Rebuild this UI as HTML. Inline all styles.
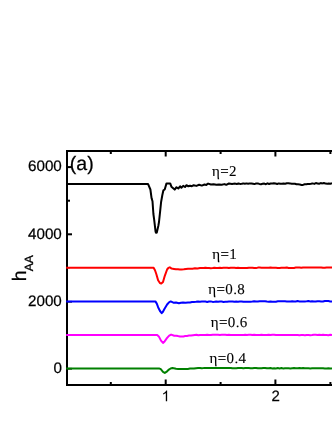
<!DOCTYPE html>
<html>
<head>
<meta charset="utf-8">
<style>
html,body{margin:0;padding:0;background:#fff;}
body{width:332px;height:430px;overflow:hidden;position:relative;}
svg{position:absolute;left:0;top:0;display:block;will-change:transform;opacity:0.999;}
text{font-family:"Liberation Sans",sans-serif;fill:#000;text-rendering:geometricPrecision;stroke:#000;stroke-width:0.25px;}
.s{font-family:"Liberation Serif",serif;font-size:15px;letter-spacing:0.35px;stroke-width:0.1px;}
</style>
</head>
<body>
<svg width="332" height="430" viewBox="0 0 332 430">
<rect width="332" height="430" fill="#fff"/>
<g fill="#000">
<rect x="66" y="150" width="2" height="236"/>
<rect x="66" y="150" width="266" height="2"/>
<rect x="66" y="384" width="266" height="2"/>
<rect x="68" y="367.90" width="4" height="1.7"/>
<rect x="68" y="334.25" width="2" height="1.2"/>
<rect x="68" y="300.90" width="4" height="1.7"/>
<rect x="68" y="267.10" width="2" height="1.2"/>
<rect x="68" y="233.3" width="4" height="2"/>
<rect x="68" y="199.7" width="2" height="2"/>
<rect x="68" y="166.1" width="4" height="2"/>
<rect x="109.8" y="382" width="2" height="2"/>
<rect x="109.8" y="152" width="2" height="2"/>
<rect x="164.7" y="379.5" width="2" height="4.5"/>
<rect x="164.7" y="152" width="2" height="4.5"/>
<rect x="219.6" y="382" width="2" height="2"/>
<rect x="219.6" y="152" width="2" height="2"/>
<rect x="274.4" y="379.5" width="2" height="4.5"/>
<rect x="274.4" y="152" width="2" height="4.5"/>
<rect x="329.4" y="382" width="2" height="2"/>
<rect x="329.4" y="152" width="2" height="2"/>
</g>
<g fill="none" stroke-linejoin="round" stroke-linecap="butt">
<path stroke="#000" stroke-width="2" d="M66.2 184.0 L120.0 184.0 L148.0 183.9 L150.4 189.5 L151.6 198.3 L152.5 201.3 L153.4 214.0 L154.1 219.2 L155.6 231.8 L156.1 232.8 L156.8 232.5 L158.3 226.0 L159.0 222.0 L160.1 211.7 L161.1 202.0 L162.3 195.3 L163.4 190.3 L164.7 189.5 L166.5 183.4 L170.2 183.4 L171.4 186.7 L173.5 188.5 L174.7 189.6 L176.5 187.2 L178.3 188.5 L180.1 186.3 L181.4 187.7 L183.2 185.9 L185.0 187.0 L186.5 185.2 L188.3 186.3 L190.1 185.7 L191.9 186.2 L193.7 185.2 L196.4 185.9 L199.1 184.8 L201.8 185.6 L204.5 184.5 L206.3 184.9 L208.1 183.6 L210.9 184.5 L213.6 184.2 L216.3 184.8 L219.0 184.4 L221.7 184.8 L224.4 184.1 L226.2 184.8 L228.9 183.5 L232.0 183.9 L233.6 183.7 L235.2 183.6 L236.8 184.0 L238.5 183.5 L240.1 183.9 L241.7 183.7 L243.3 183.4 L244.9 183.8 L246.5 183.4 L248.1 183.8 L249.7 183.4 L251.4 183.4 L253.0 183.7 L254.6 184.1 L256.2 183.4 L257.8 183.5 L259.4 183.9 L261.0 184.2 L262.6 183.8 L264.3 183.6 L265.9 184.2 L267.5 183.3 L269.1 184.0 L270.7 183.5 L272.3 183.4 L273.9 183.3 L275.5 183.5 L277.2 184.0 L278.8 183.4 L280.4 183.7 L282.0 183.8 L283.6 183.5 L285.2 183.7 L286.8 183.2 L288.5 183.2 L290.1 183.4 L291.7 183.8 L293.3 183.7 L294.9 183.7 L296.5 184.2 L298.1 184.3 L299.7 184.4 L301.4 185.0 L303.0 184.9 L304.6 184.3 L306.2 184.3 L307.8 184.0 L309.4 184.1 L311.0 183.8 L312.6 183.4 L314.3 183.9 L315.9 183.1 L317.5 183.4 L319.1 183.7 L320.7 183.1 L322.3 183.4 L323.9 183.0 L325.5 183.6 L327.2 183.7 L328.8 183.5 L330.4 183.7 L332.0 183.2"/>
<path stroke="#f00" stroke-width="2" d="M66.2 267.7 L153.6 267.7 L155.0 270.2 L156.3 274.0 L158.1 280.3 L159.9 283.0 L161.3 283.6 L163.0 282.1 L164.8 275.8 L167.1 269.5 L168.4 267.9 L169.8 267.3 L171.6 268.6 L174.0 268.9 L176.0 269.2 L178.0 269.2 L179.8 269.4 L181.6 269.5 L183.8 269.3 L186.0 269.0 L188.0 268.8 L190.0 268.7 L192.5 268.7 L195.0 268.3 L197.5 268.4 L200.0 268.0 L201.8 268.0 L203.6 268.1 L205.4 267.7 L207.2 268.1 L209.0 268.1 L210.8 268.2 L212.7 268.1 L214.5 267.8 L216.3 267.9 L218.1 268.0 L219.9 267.7 L221.7 267.9 L223.5 267.7 L225.3 267.7 L227.1 267.7 L228.9 268.1 L230.7 267.7 L232.5 267.8 L234.4 267.8 L236.2 268.1 L238.0 267.7 L239.8 267.9 L241.6 267.9 L243.4 268.1 L245.2 268.0 L247.0 268.1 L248.8 267.7 L250.6 267.8 L252.4 267.8 L254.2 268.1 L256.1 268.1 L257.9 267.6 L259.7 267.6 L261.5 267.7 L263.3 267.7 L265.1 267.8 L266.9 267.8 L268.7 267.7 L270.5 267.5 L272.3 267.7 L274.1 267.7 L275.9 267.8 L277.8 268.0 L279.6 267.9 L281.4 267.8 L283.2 267.8 L285.0 267.8 L286.8 267.5 L288.6 268.0 L290.4 267.9 L292.2 267.9 L294.0 267.9 L295.8 267.6 L297.6 267.6 L299.5 267.5 L301.3 267.8 L303.1 267.4 L304.9 267.4 L306.7 267.5 L308.5 267.5 L310.3 267.6 L312.1 267.4 L313.9 267.4 L315.7 267.5 L317.5 267.4 L319.3 267.6 L321.2 267.4 L323.0 267.8 L324.8 267.7 L326.6 267.4 L328.4 267.5 L330.2 267.5 L332.0 267.5"/>
<path stroke="#00f" stroke-width="2" d="M66.2 301.4 L155.4 301.4 L156.8 303.6 L158.1 307.2 L160.0 311.0 L161.7 313.1 L162.8 312.0 L164.4 309.0 L167.1 304.5 L169.0 302.3 L170.7 301.4 L173.4 302.7 L176.0 302.6 L178.9 303.2 L180.9 302.7 L183.0 302.6 L185.5 302.7 L188.0 302.4 L190.0 302.5 L192.0 302.0 L194.0 301.9 L196.0 301.8 L198.0 301.5 L200.0 301.7 L201.8 301.5 L203.6 301.6 L205.4 301.5 L207.2 301.9 L209.0 301.5 L210.8 301.4 L212.7 301.9 L214.5 301.7 L216.3 301.4 L218.1 301.7 L219.9 301.4 L221.7 301.6 L223.5 301.9 L225.3 301.8 L227.1 301.7 L228.9 301.5 L230.7 301.5 L232.5 301.4 L234.4 301.7 L236.2 301.6 L238.0 301.7 L239.8 301.5 L241.6 301.4 L243.4 301.7 L245.2 301.8 L247.0 301.7 L248.8 301.7 L250.6 301.7 L252.4 301.6 L254.2 301.3 L256.1 301.5 L257.9 301.4 L259.7 301.2 L261.5 301.2 L263.3 301.3 L265.1 301.3 L266.9 301.6 L268.7 301.7 L270.5 301.4 L272.3 301.7 L274.1 301.7 L275.9 301.7 L277.8 301.3 L279.6 301.2 L281.4 301.2 L283.2 301.2 L285.0 301.2 L286.8 301.4 L288.6 301.6 L290.4 301.5 L292.2 301.3 L294.0 301.4 L295.8 301.5 L297.6 301.1 L299.5 301.4 L301.3 301.5 L303.1 301.5 L304.9 301.4 L306.7 301.3 L308.5 301.1 L310.3 301.4 L312.1 301.2 L313.9 301.4 L315.7 301.5 L317.5 301.2 L319.3 301.2 L321.2 301.5 L323.0 301.4 L324.8 301.0 L326.6 301.0 L328.4 301.0 L330.2 301.4 L332.0 301.4"/>
<path stroke="#f0f" stroke-width="2" d="M66.2 334.9 L157.2 334.9 L158.8 336.4 L161.0 340.6 L163.0 342.9 L164.6 341.4 L167.1 337.9 L169.2 335.6 L171.1 334.6 L174.3 335.8 L176.2 335.7 L178.0 336.1 L179.8 336.4 L181.6 336.4 L183.4 336.5 L185.2 336.1 L187.0 335.9 L189.0 335.6 L191.0 335.5 L193.0 335.2 L194.8 335.0 L196.5 334.8 L198.2 335.2 L200.0 334.9 L201.8 334.9 L203.6 334.9 L205.4 335.1 L207.2 334.8 L209.0 335.0 L210.8 335.0 L212.7 334.7 L214.5 334.7 L216.3 334.8 L218.1 334.7 L219.9 334.9 L221.7 334.8 L223.5 334.8 L225.3 334.7 L227.1 335.1 L228.9 334.8 L230.7 334.9 L232.5 334.9 L234.4 335.1 L236.2 334.9 L238.0 335.1 L239.8 334.9 L241.6 334.9 L243.4 334.9 L245.2 334.7 L247.0 334.9 L248.8 334.8 L250.6 334.7 L252.4 335.1 L254.2 334.8 L256.1 334.9 L257.9 335.0 L259.7 334.9 L261.5 334.8 L263.3 334.9 L265.1 335.0 L266.9 335.1 L268.7 334.7 L270.5 335.0 L272.3 334.8 L274.1 334.8 L275.9 335.1 L277.8 334.9 L279.6 335.0 L281.4 335.1 L283.2 335.1 L285.0 334.9 L286.8 335.0 L288.6 335.0 L290.4 335.0 L292.2 335.0 L294.0 334.9 L295.8 335.0 L297.6 335.0 L299.5 335.2 L301.3 335.1 L303.1 335.1 L304.9 335.2 L306.7 334.9 L308.5 335.0 L310.3 335.2 L312.1 335.1 L313.9 334.8 L315.7 334.8 L317.5 335.0 L319.3 334.8 L321.2 334.9 L323.0 334.8 L324.8 335.1 L326.6 335.1 L328.4 335.2 L330.2 334.8 L332.0 335.1"/>
<path stroke="#008000" stroke-width="2" d="M66.2 368.4 L159.0 368.4 L160.8 369.2 L163.0 371.8 L164.8 372.9 L166.4 371.9 L168.9 369.6 L170.6 368.5 L172.5 368.0 L176.1 368.7 L178.1 368.9 L180.0 369.0 L181.7 368.9 L183.4 369.1 L185.6 369.1 L187.8 369.0 L190.0 368.6 L192.0 368.4 L194.0 368.6 L196.0 368.2 L198.0 368.1 L200.0 368.0 L201.8 368.2 L203.6 368.1 L205.4 367.9 L207.2 368.0 L209.0 368.0 L210.8 368.0 L212.7 367.9 L214.5 368.0 L216.3 368.1 L218.1 367.9 L219.9 368.1 L221.7 368.0 L223.5 367.9 L225.3 368.0 L227.1 368.1 L228.9 368.1 L230.7 367.9 L232.5 368.3 L234.4 368.2 L236.2 368.3 L238.0 368.0 L239.8 368.0 L241.6 367.9 L243.4 368.2 L245.2 368.0 L247.0 368.0 L248.8 368.1 L250.6 368.3 L252.4 368.3 L254.2 368.1 L256.1 368.0 L257.9 368.3 L259.7 368.2 L261.5 368.3 L263.3 368.0 L265.1 368.0 L266.9 368.3 L268.7 368.2 L270.5 368.0 L272.3 368.4 L274.1 368.3 L275.9 368.4 L277.8 368.1 L279.6 368.4 L281.4 368.1 L283.2 368.4 L285.0 368.2 L286.8 368.2 L288.6 368.3 L290.4 368.4 L292.2 368.2 L294.0 368.1 L295.8 368.3 L297.6 368.2 L299.5 368.1 L301.3 368.2 L303.1 368.1 L304.9 368.2 L306.7 368.2 L308.5 368.3 L310.3 368.4 L312.1 368.3 L313.9 368.3 L315.7 368.2 L317.5 368.3 L319.3 368.2 L321.2 368.3 L323.0 368.2 L324.8 368.5 L326.6 368.4 L328.4 368.3 L330.2 368.4 L332.0 368.6"/>
</g>
<g font-size="15">
<text x="61.8" y="171.3" text-anchor="end" font-size="15.2">6000</text>
<text x="61.8" y="238.5" text-anchor="end" font-size="15.2">4000</text>
<text x="61.8" y="305.6" text-anchor="end" font-size="15.2">2000</text>
<text x="62.0" y="373.0" text-anchor="end" font-size="15.2">0</text>
<path transform="translate(161.55,401.3) scale(0.0073242,-0.0073242)" d="M763 0H583V1147Q518 1085 412.5 1023Q307 961 223 930V1104Q374 1175 487 1276Q600 1377 647 1472H763Z"/>
<text x="275.7" y="401.3" text-anchor="middle">2</text>
</g>
<text x="69.8" y="170.2" font-size="19.5">(a)</text>
<g transform="translate(26.4,281.4) rotate(-90)">
<text x="0.2" y="0" font-size="19.5">h</text>
<text x="10.1" y="7" font-size="12">AA</text>
</g>
<text class="s" x="212" y="176">η=2</text>
<text class="s" x="212.2" y="259.2">η=1</text>
<text class="s" x="208.3" y="294.1">η=0.8</text>
<text class="s" x="210.8" y="327.0">η=0.6</text>
<text class="s" x="209.6" y="362.8">η=0.4</text>
</svg>
</body>
</html>
